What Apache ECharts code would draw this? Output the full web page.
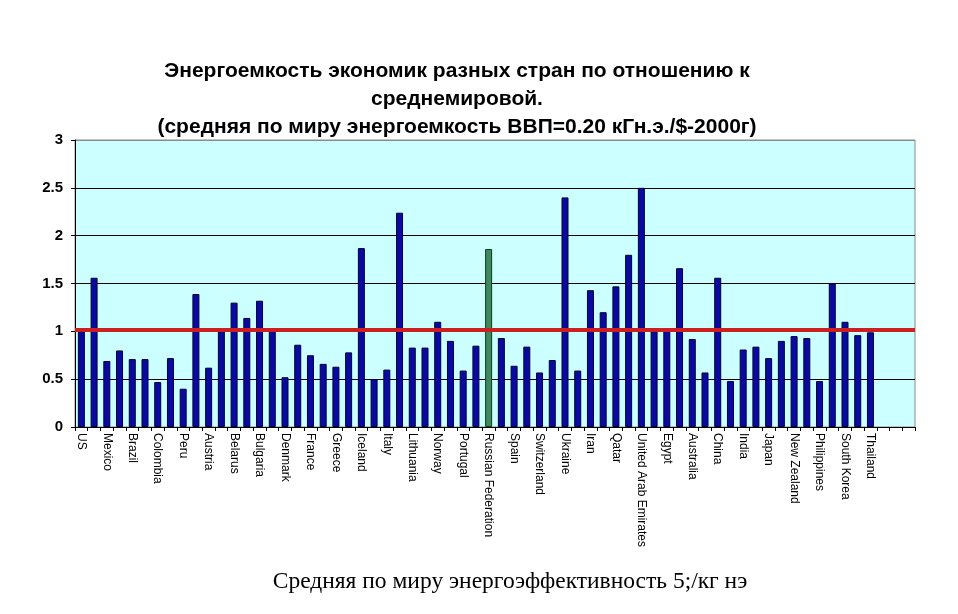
<!DOCTYPE html>
<html>
<head>
<meta charset="utf-8">
<script src="https://cdn.jsdelivr.net/npm/echarts@6/dist/echarts.min.js"></script>
<style>
html,body{margin:0;padding:0;background:#fff;}
#chart{width:958px;height:614px;}
</style>
</head>
<body>
<div id="chart"></div>
<script>
// Categories (only every other label is shown in the original; hidden names are best guesses)
var countries = [
  'US','Canada','Mexico','Argentina','Brazil','Chile','Colombia','Ecuador','Peru','Venezuela',
  'Austria','Azerbaijan','Belarus','Belgium','Bulgaria','Czech Republic','Denmark','Finland','France','Germany',
  'Greece','Hungary','Iceland','Ireland','Italy','Kazakhstan','Lithuania','Netherlands','Norway','Poland',
  'Portugal','Romania','Russian Federation','Slovakia','Spain','Sweden','Switzerland','Turkey','Ukraine','United Kingdom',
  'Iran','Kuwait','Qatar','Saudi Arabia','United Arab Emirates','Algeria','Egypt','South Africa','Australia','Bangladesh',
  'China','Hong Kong','India','Indonesia','Japan','Malaysia','New Zealand','Pakistan','Philippines','Singapore',
  'South Korea','Taiwan','Thailand','','',''
];
// Energy intensity relative to world average
var intensity = [
  1.00,1.56,0.69,0.80,0.71,0.71,0.47,0.72,0.40,1.39,
  0.62,1.01,1.30,1.14,1.32,1.01,0.52,0.86,0.75,0.66,
  0.63,0.78,1.87,0.50,0.60,2.24,0.83,0.83,1.10,0.90,
  0.59,0.85,1.86,0.93,0.64,0.84,0.57,0.70,2.40,0.59,
  1.43,1.20,1.47,1.80,2.50,1.00,1.01,1.66,0.92,0.57,
  1.56,0.48,0.81,0.84,0.72,0.90,0.95,0.93,0.48,1.50,
  1.10,0.96,0.99
];
var highlighted = 'Russian Federation';
var worldAverage = 1.02;
var yTicks = ['0','0.5','1','1.5','2','2.5','3'];
var titleLines = [
  'Энергоемкость экономик разных стран по отношению к',
  'среднемировой.',
  '(средняя по миру энергоемкость ВВП=0.20 кГн.э./$-2000г)'
];
var caption = 'Средняя по миру энергоэффективность 5;/кг нэ';

var barData = intensity.map(function (v, i) {
  if (countries[i] === highlighted) {
    return {value: v, itemStyle: {color: '#3E8A5E', borderColor: '#0B3A1E'}};
  }
  return v;
});

var chart = echarts.init(document.getElementById('chart'), null, {renderer: 'canvas'});
chart.setOption({
  backgroundColor: '#ffffff',
  animation: false,
  title: [{
    text: titleLines.join('\n'),
    left: 452, top: 52, textAlign: 'center',
    textStyle: {fontFamily: 'Liberation Sans, Arial, sans-serif', fontWeight: 'bold', fontSize: 21, lineHeight: 28, color: '#000'}
  }, {
    text: caption,
    left: 505, top: 565, textAlign: 'center',
    textStyle: {fontFamily: 'Liberation Serif, Times New Roman, serif', fontWeight: 'normal', fontSize: 23.5, color: '#000'}
  }],
  grid: {
    left: 75, right: 43, top: 140, bottom: 187,
    show: true, backgroundColor: '#CCFFFF', borderColor: '#8A8A8A', borderWidth: 1,
    containLabel: false
  },
  xAxis: {
    type: 'category',
    data: countries,
    boundaryGap: true,
    axisLine: {show: true, lineStyle: {color: '#000', width: 1}},
    axisTick: {show: true, interval: 0, length: 4, inside: false, lineStyle: {color: '#000'}},
    axisLabel: {
      interval: 1, rotate: -90, margin: 6,
      fontFamily: 'Liberation Sans, Arial, sans-serif', fontSize: 12, color: '#000'
    },
    splitLine: {show: false}
  },
  yAxis: {
    type: 'value',
    min: 0, max: 3, interval: 0.5,
    axisLine: {show: true, lineStyle: {color: '#000', width: 1}},
    axisTick: {show: true, length: 4, lineStyle: {color: '#000'}},
    axisLabel: {
      margin: 12,
      fontFamily: 'Liberation Sans, Arial, sans-serif', fontWeight: 'bold', fontSize: 15, color: '#000',
      formatter: function (v) { return yTicks[Math.round(v / 0.5)]; }
    },
    splitLine: {show: true, lineStyle: {color: ['#000','#000','#000','#000','#000','#000','#8A8A8A'], width: 1}}
  },
  series: [{
    type: 'bar',
    data: barData,
    barWidth: 7,
    itemStyle: {color: '#0A0AA0', borderColor: '#00003A', borderWidth: 1},
    markLine: {
      silent: true, symbol: 'none',
      label: {show: false},
      lineStyle: {color: '#CC2020', width: 4, type: 'solid'},
      data: [{yAxis: worldAverage}]
    }
  }]
});
</script>
</body>
</html>
